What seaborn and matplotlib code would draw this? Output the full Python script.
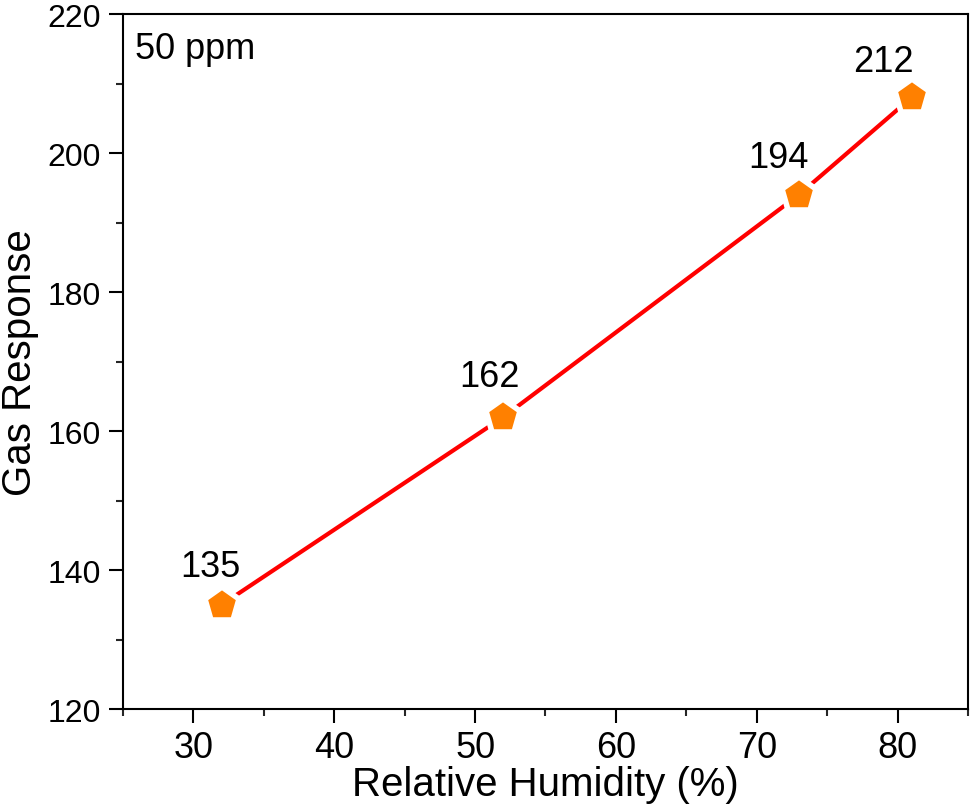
import pandas as pd
import matplotlib
matplotlib.use("Agg")
import matplotlib.pyplot as plt
from matplotlib.ticker import MultipleLocator
import seaborn as sns

# dados
umidade = [32, 52, 73, 81]
resposta = [135, 162, 194, 208]
rotulos = ["135", "162", "194", "212"]
# deslocamento dos rótulos (pixels)
desloc_x = [-11, -14, -21, -28]
desloc_y = [38, 41, 37, 36]

sns.set_theme(style="ticks")
plt.rcParams["font.family"] = ["Liberation Sans", "DejaVu Sans"]
plt.rcParams["text.color"] = "black"
plt.rcParams["axes.labelcolor"] = "black"

df = pd.DataFrame({"Umidade": umidade, "Resposta": resposta})

fig = plt.figure(figsize=(9.74, 8.12), dpi=100)
ax = fig.add_axes([0.1263, 0.1256, 0.8675, 0.8559])

sns.lineplot(
    data=df,
    x="Umidade",
    y="Resposta",
    color="#ff0000",
    linewidth=3,
    marker="p",
    markersize=26,
    markerfacecolor="#ff8000",
    markeredgecolor="white",
    markeredgewidth=4,
    ax=ax,
)

for x, y, r, dx, dy in zip(umidade, resposta, rotulos, desloc_x, desloc_y):
    ax.annotate(
        r,
        (x, y),
        xytext=(dx, dy),
        textcoords="offset pixels",
        ha="center",
        va="center",
        fontsize=26,
        color="black",
    )

ax.text(0.014, 0.975, "50 ppm", transform=ax.transAxes,
        ha="left", va="top", fontsize=26)

ax.set_xlim(25, 85)
ax.set_ylim(120, 220)
ax.xaxis.set_major_locator(MultipleLocator(10))
ax.xaxis.set_minor_locator(MultipleLocator(5))
ax.yaxis.set_major_locator(MultipleLocator(20))
ax.yaxis.set_minor_locator(MultipleLocator(10))

ax.tick_params(which="major", direction="out", length=10, width=1.5,
               colors="black", pad=6)
ax.tick_params(axis="x", which="major", labelsize=26, pad=5)
ax.tick_params(axis="y", which="major", labelsize=23)
ax.tick_params(which="minor", direction="out", length=5, width=1.5)
ax.tick_params(top=False, right=False, which="both")

for s in ax.spines.values():
    s.set_linewidth(1.5)
    s.set_color("black")
    s.set_visible(True)

ax.set_xlabel("Relative Humidity (%)", fontsize=29, labelpad=0)
ax.set_ylabel("Gas Response", fontsize=29, labelpad=6)

fig.savefig("out.png", dpi=100)
